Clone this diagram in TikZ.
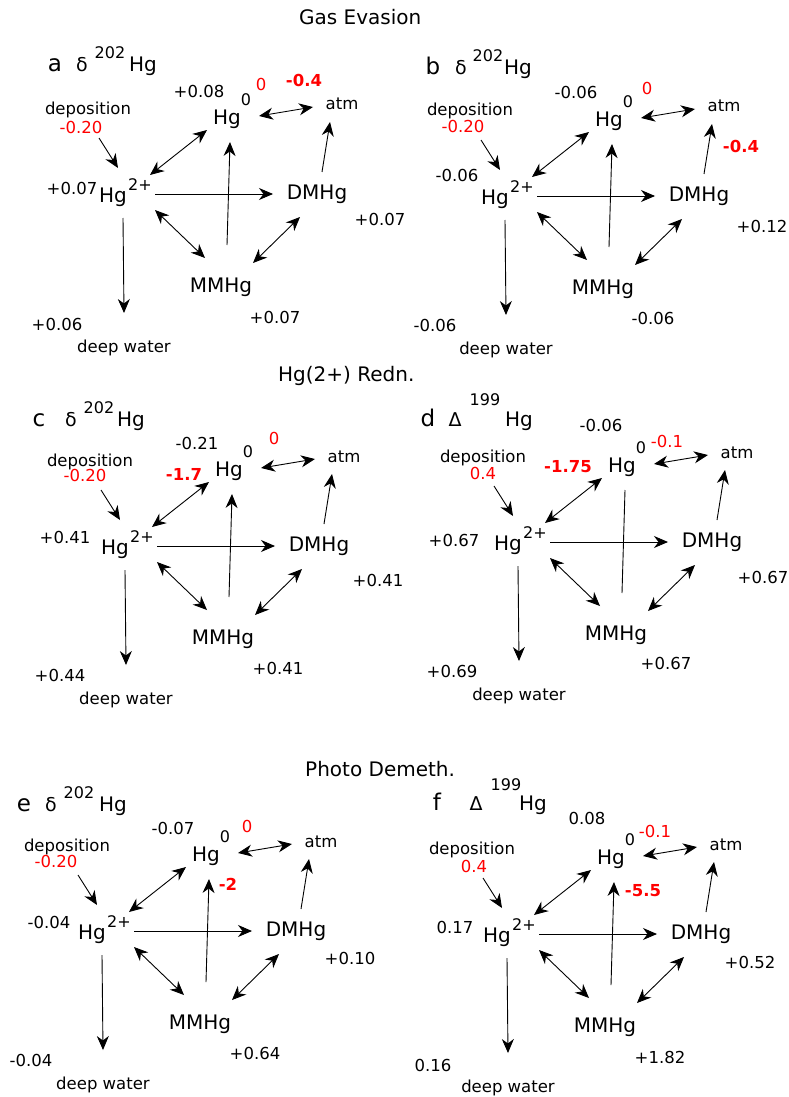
\documentclass[tikz,border=0pt]{standalone}
\usepackage{fontspec}
\setmainfont{DejaVu Sans}
\usepackage{tikz}
\usetikzlibrary{arrows.meta, calc}

\newcommand{\fsz}[1]{\fontsize{#1}{#1}\selectfont}

\tikzset{
  big/.style={inner sep=0pt, text height=14.6pt, text depth=0pt, font=\fsz{20}},
  small/.style={inner sep=0pt, text height=12pt, text depth=0pt, font=\fsz{16.5}},
  supr/.style={inner sep=0pt, text height=11.7pt, text depth=0pt, font=\fsz{16}},
  hot/.style={small, text=red},
  hotb/.style={hot, font=\fsz{16.5}\bfseries},
  hd/.style={inner sep=0pt, anchor=base, font=\fsz{20}},
  hdl/.style={hd, font=\fsz{23}},
  hds/.style={hd, font=\fsz{16}},
  flow/.style={-{Stealth[length=14pt, width=12pt, inset=4.5pt]}, line width=0.9pt},
  both/.style={{Stealth[length=14pt, width=12pt, inset=4.5pt]}-{Stealth[length=14pt, width=12pt, inset=4.5pt]}, line width=0.9pt},
  plain/.style={line width=0.9pt}
}

\newcommand{\hgcycle}[1]{%
  \node [big] (hgii) at (0,0) {Hg};
  \node [supr] (hgiis) at (27,-10) {2+};
  \node [big] (hgz) at (114,-78) {Hg};
  \node [supr] (hgzs) at (133,-95) {0};
  \node [small] (atm) at (229,-91) {atm};
  \node [big] (dmhg) at (204,-3) {DMHg};
  \node [big] (mmhg) at (108,90) {MMHg};
  \node [small] (dep) at (-25,-87) {deposition};
  \node [small] (deep) at (11,151) {deep water};
  \draw [flow] ($(dep)+(11,30)$) -- ($(hgii)+(5,-27)$);
  \draw [both] ($(hgii)+(37,-20)$) -- ($(hgz)+(-20,13)$);
  \draw [flow] ($(hgii)+(42,-1)$) -- ($(dmhg)+(-44,2)$);
  \draw [flow] ($(dmhg)+(5,-20)$) -- ($(atm)+(-12,18)$);
  \draw [both] ($(hgz)+(32,-1)$) -- ($(atm)+(-29,3)$);
  \draw [#1] ($(mmhg)+(6,-40)$) -- ($(hgz)+(3,25)$);
  \draw [both] ($(hgii)+(42,15)$) -- ($(mmhg)+(-16,-27)$);
  \draw [both] ($(mmhg)+(32,-22)$) -- ($(dmhg)+(-17,25)$);
  \draw [flow] ($(hgii)+(10,23)$) -- ($(deep)+(0,-33)$);
}

\begin{document}
\begin{tikzpicture}[x=1pt, y=-1pt]
\path [use as bounding box, fill=white] (0,0) rectangle (789,1097);

\node [big, anchor=west] (gas) at (299,17) {Gas Evasion};
\node [big, anchor=west] (redn) at (278,374) {Hg(2+) Redn.};
\node [big, anchor=west] (demeth) at (305,769) {Photo Demeth.};

% a
\node [hdl] (a-let) at (55,72) {a};
\node [hd, font=\fsz{19}] (a-sym) at (82,72) {δ};
\node [hds] (a-iso) at (110,59) {202};
\node [hd] (a-hg) at (143,72) {Hg};
\begin{scope}[shift={(113,195)}]
\hgcycle{flow}
\end{scope}
\node [small] (a-hgz) at (199,92) {+0.08};
\node [hot] (a-hgzr) at (261,85) {0};
\node [hotb] (a-flux) at (304,81) {-0.4};
\node [hot] (a-dep) at (81,128) {-0.20};
\node [small] (a-hgii) at (72,188) {+0.07};
\node [small] (a-dmhg) at (380,219) {+0.07};
\node [small] (a-mmhg) at (275,317) {+0.07};
\node [small] (a-deep) at (57,324) {+0.06};

% b
\node [hdl] (b-let) at (433,75) {b};
\node [hd, font=\fsz{19}] (b-sym) at (461,75) {δ};
\node [hds] (b-iso) at (488,62) {202};
\node [hd] (b-hg) at (518,75) {Hg};
\begin{scope}[shift={(495,197)}]
\hgcycle{flow}
\end{scope}
\node [small] (b-hgz) at (576,93) {-0.06};
\node [hot] (b-hgzr) at (647,89) {0};
\node [hotb] (b-flux) at (741,146) {-0.4};
\node [hot] (b-dep) at (463,126) {-0.20};
\node [small] (b-hgii) at (457,175) {-0.06};
\node [small] (b-dmhg) at (762,226) {+0.12};
\node [small] (b-mmhg) at (653,318) {-0.06};
\node [small] (b-deep) at (435,325) {-0.06};

% c
\node [hdl] (c-let) at (39,426) {c};
\node [hd, font=\fsz{19}] (c-sym) at (71,426) {δ};
\node [hds] (c-iso) at (99,413) {202};
\node [hd] (c-hg) at (131,426) {Hg};
\begin{scope}[shift={(115,547)}]
\hgcycle{flow}
\end{scope}
\node [small] (c-hgz) at (197,443) {-0.21};
\node [hot] (c-hgzr) at (274,438) {0};
\node [hotb] (c-flux) at (184,474) {-1.7};
\node [hot] (c-dep) at (85,475) {-0.20};
\node [small] (c-hgii) at (65,537) {+0.41};
\node [small] (c-dmhg) at (378,580) {+0.41};
\node [small] (c-mmhg) at (278,668) {+0.41};
\node [small] (c-deep) at (60,675) {+0.44};

% d
\node [hdl] (d-let) at (428,426) {d};
\node [hd, font=\fsz{19}] (d-sym) at (455,426) {Δ};
\node [hds] (d-iso) at (485,405) {199};
\node [hd] (d-hg) at (519,426) {Hg};
\begin{scope}[shift={(508,543)}]
\hgcycle{plain}
\end{scope}
\node [small] (d-hgz) at (601,425) {-0.06};
\node [hot] (d-hgzr) at (667,441) {-0.1};
\node [hotb] (d-flux) at (568,466) {-1.75};
\node [hot] (d-dep) at (483,473) {0.4};
\node [small] (d-hgii) at (454,540) {+0.67};
\node [small] (d-dmhg) at (763,577) {+0.67};
\node [small] (d-mmhg) at (666,663) {+0.67};
\node [small] (d-deep) at (452,671) {+0.69};

% e
\node [hdl] (e-let) at (24,811) {e};
\node [hd, font=\fsz{19}] (e-sym) at (51,811) {δ};
\node [hds] (e-iso) at (79,798) {202};
\node [hd] (e-hg) at (113,811) {Hg};
\begin{scope}[shift={(92,932)}]
\hgcycle{flow}
\end{scope}
\node [small] (e-hgz) at (173,828) {-0.07};
\node [hot] (e-hgzr) at (247,826) {0};
\node [hotb] (e-flux) at (228,884) {-2};
\node [hot] (e-dep) at (56,861) {-0.20};
\node [small] (e-hgii) at (49,922) {-0.04};
\node [small] (e-dmhg) at (350,958) {+0.10};
\node [small] (e-mmhg) at (255,1053) {+0.64};
\node [small] (e-deep) at (31,1060) {-0.04};

% f
\node [hdl] (f-let) at (437,810) {f};
\node [hd, font=\fsz{19}] (f-sym) at (476,810) {Δ};
\node [hds] (f-iso) at (506,790) {199};
\node [hd] (f-hg) at (533,810) {Hg};
\begin{scope}[shift={(497,935)}]
\hgcycle{flow}
\end{scope}
\node [small] (f-hgz) at (587,818) {0.08};
\node [hot] (f-hgzr) at (655,831) {-0.1};
\node [hotb] (f-flux) at (643,890) {-5.5};
\node [hot] (f-dep) at (474,866) {0.4};
\node [small] (f-hgii) at (455,927) {0.17};
\node [small] (f-dmhg) at (750,962) {+0.52};
\node [small] (f-mmhg) at (660,1057) {+1.82};
\node [small] (f-deep) at (433,1065) {0.16};
\end{tikzpicture}
\end{document}
